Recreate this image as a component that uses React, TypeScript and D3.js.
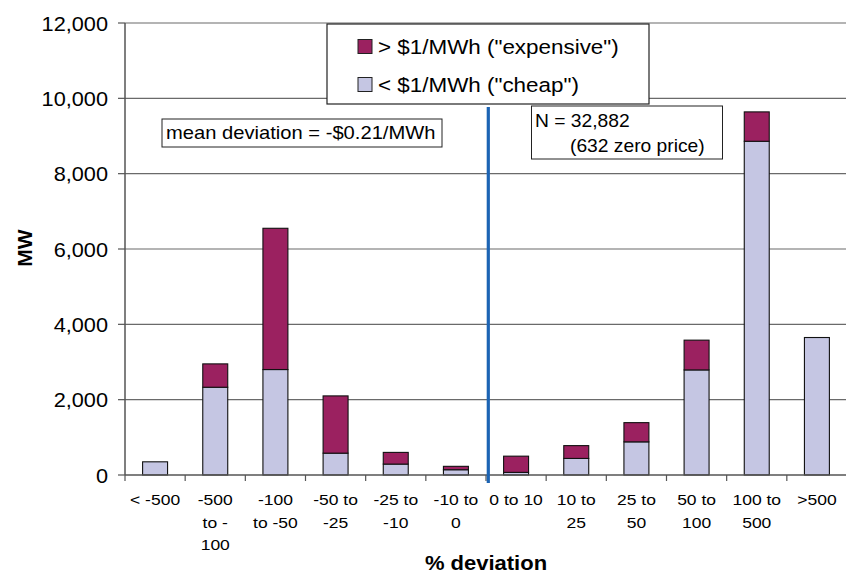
import React from "react";
import * as d3 from "d3";

const categories = ["< -500", "-500 to -100", "-100 to -50", "-50 to -25", "-25 to -10", "-10 to 0", "0 to 10", "10 to 25", "25 to 50", "50 to 100", "100 to 500", ">500"];
const categoryLines = [["< -500"], ["-500", "to -", "100"], ["-100", "to -50"], ["-50 to", "-25"], ["-25 to", "-10"], ["-10 to", "0"], ["0 to 10"], ["10 to", "25"], ["25 to", "50"], ["50 to", "100"], ["100 to", "500"], [">500"]];
const cheap = [350, 2330, 2800, 580, 290, 140, 70, 440, 880, 2790, 8860, 3650];
const expensive = [0, 620, 3750, 1520, 310, 90, 430, 340, 510, 790, 780, 0];
const yTicks = [0, 2000, 4000, 6000, 8000, 10000, 12000];
const seriesNames = ['> $1/MWh ("expensive")', '< $1/MWh ("cheap")'];
const dividerTop = 9770;

const W = 846, H = 573;
const left = 125, right = 847, top = 23, bottom = 475;
const C_EXP = "#9b2160";
const C_CHEAP = "#c5c6e3";
const FONT = "Liberation Sans, Arial, sans-serif";

function T({ x, y, sx = 1.1, size, anchor = "start", bold = false, rotate = 0, children }: any) {
  return (
    <g transform={`translate(${x},${y}) rotate(${rotate}) scale(${sx},1)`}>
      <text x={0} y={0} fontSize={size} fontFamily={FONT} fontWeight={bold ? "bold" : "normal"} textAnchor={anchor} fill="#000">{children}</text>
    </g>
  );
}

export default function App() {
  const x = d3.scaleBand<string>().domain(categories).range([left, right]).padding(0);
  const y = d3.scaleLinear().domain([0, 12000]).range([bottom, top]);
  const bw = x.bandwidth() * 0.415;
  const fmt = d3.format(",");
  const stackData = categories.map((c, i) => ({ c, cheap: cheap[i], expensive: expensive[i] }));
  const stack = d3.stack<any>().keys(["cheap", "expensive"])(stackData);
  const colors: any = { cheap: C_CHEAP, expensive: C_EXP };
  const divX = (x(categories[6]) as number) + 2.3;

  return (
    <svg width={W} height={H} style={{ position: "absolute", left: 0, top: 0, background: "#fff" }}>
      {yTicks.map(t => (
        <g key={t}>
          {t > 0 && <line x1={left} x2={right} y1={y(t)} y2={y(t)} stroke="#6a6a6a" strokeWidth={1.2} />}
          <line x1={left - 7} x2={left} y1={y(t)} y2={y(t)} stroke="#555" strokeWidth={1.2} />
          <T x={108} y={y(t) + 7.5} size={20.5} sx={1.06} anchor="end">{fmt(t)}</T>
        </g>
      ))}
      {stack.map(s => (
        <g key={s.key}>
          {s.map((d, i) => d[1] - d[0] > 0 ? (
            <rect key={i} x={(x(categories[i]) as number) + (x.bandwidth() - bw) / 2} width={bw}
              y={y(d[1])} height={y(d[0]) - y(d[1])} fill={colors[s.key]} stroke="#111" strokeWidth={1.1} />
          ) : null)}
        </g>
      ))}
      <line x1={left} x2={left} y1={top} y2={bottom} stroke="#555" strokeWidth={1.5} />
      <line x1={left} x2={right} y1={bottom} y2={bottom} stroke="#555" strokeWidth={1.5} />
      {categories.concat(["end"]).map((c, i) => {
        const xx = left + i * x.step();
        return <line key={c} x1={xx} x2={xx} y1={bottom} y2={bottom + 6} stroke="#555" strokeWidth={1.2} />;
      })}
      {categoryLines.map((lines, i) => (
        <g key={i}>
          {lines.map((l, j) => (
            <T key={j} x={(x(categories[i]) as number) + x.bandwidth() / 2} y={505 + j * 22.5} size={15.5} sx={1.13} anchor="middle">{l}</T>
          ))}
        </g>
      ))}
      <line x1={divX} x2={divX} y1={y(dividerTop)} y2={bottom + 8} stroke="#1c64b4" strokeWidth={3.2} />
      {/* legend */}
      <rect x={327} y={24} width={322} height={80} fill="#fff" stroke="#222" strokeWidth={1.2} />
      <rect x={358} y={39.5} width={14} height={14} fill={C_EXP} stroke="#222" strokeWidth={1} />
      <T x={378} y={53.5} size={19.5} sx={1.15}>{seriesNames[0]}</T>
      <rect x={358} y={77.5} width={14} height={14} fill={C_CHEAP} stroke="#222" strokeWidth={1} />
      <T x={378} y={92} size={19.5} sx={1.15}>{seriesNames[1]}</T>
      {/* annotations */}
      <rect x={162} y={119} width={280} height={28} fill="#fff" stroke="#222" strokeWidth={1} />
      <T x={166} y={139} size={18} sx={1.12}>mean deviation = -$0.21/MWh</T>
      <rect x={531.5} y={106} width={191} height={53} fill="#fff" stroke="#222" strokeWidth={1} />
      <T x={535} y={127} size={17.5} sx={1.1}>N = 32,882</T>
      <T x={570} y={152} size={17.5} sx={1.1}>(632 zero price)</T>
      {/* axis titles */}
      <T x={32} y={248} size={20} sx={1.05} bold anchor="middle" rotate={-90}>MW</T>
      <T x={486} y={570} size={20} sx={1.1} bold anchor="middle">% deviation</T>
    </svg>
  );
}
